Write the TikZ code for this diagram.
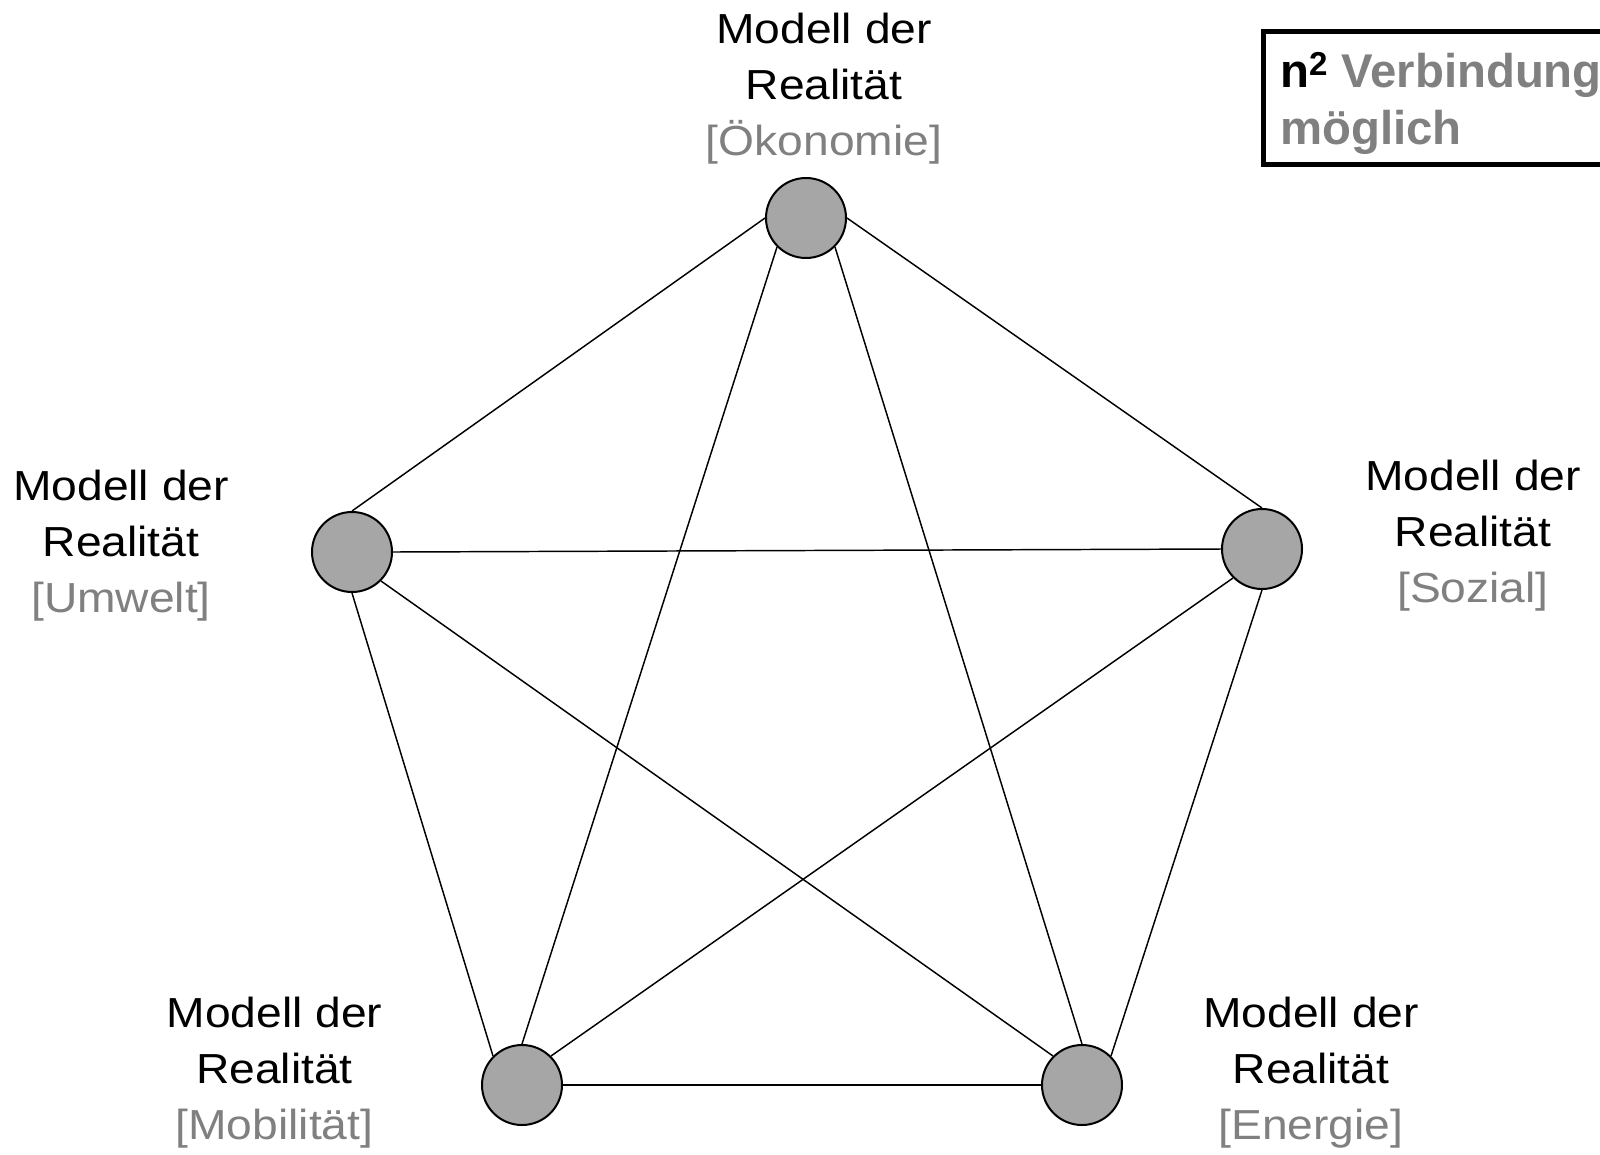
\documentclass[tikz,border=0pt]{standalone}
\usepackage{fontspec}
\setmainfont{Liberation Sans}
\newfontfamily\labelfont{Liberation Sans}[FakeStretch=1.1]
\definecolor{txtgray}{HTML}{808080}
\definecolor{nodefill}{HTML}{A6A6A6}

\begin{document}
\begin{tikzpicture}[x=0.75pt,y=-0.75pt,
  model/.style={circle, draw=black, line width=1.5pt, fill=nodefill,
    minimum size=60pt, inner sep=0pt},
  link/.style={line width=1.1pt},
  caption/.style={align=center, inner sep=0pt,
    font=\labelfont\fontsize{31.5}{42}\selectfont},
  infobox/.style={draw=black, line width=3.75pt},
  notetext/.style={align=left, inner sep=0pt, anchor=west,
    font=\bfseries\fontsize{35.5}{42.75}\selectfont}
]
\path[use as bounding box, clip] (0,0) rectangle (1600,1154);
\fill[white] (0,0) rectangle (1600,1154);

% the five models
\node[model] (oek) at (806,218) {};
\node[model] (umw) at (352,552) {};
\node[model] (soz) at (1262,549) {};
\node[model] (mob) at (522,1085) {};
\node[model] (ene) at (1082,1085) {};

% every model linked with every other one, between fixed connection points
\draw[link] (oek.west) -- (umw.north);
\draw[link] (oek.east) -- (soz.north);
\draw[link] (oek.south west) -- (mob.north);
\draw[link] (oek.south east) -- (ene.north);
\draw[link] (umw.east) -- (soz.west);
\draw[link] (umw.south) -- (mob.north west);
\draw[link] (umw.south east) -- (ene.north west);
\draw[link] (soz.south west) -- (mob.north east);
\draw[link] (soz.south) -- (ene.north east);
\draw[link] (mob.east) -- (ene.west);

% captions
\node[caption] (oekl) at (824,89) {Modell der\\Realität\\\textcolor{txtgray}{[Ökonomie]}};
\node[caption] (umwl) at (121,546) {Modell der\\Realität\\\textcolor{txtgray}{[Umwelt]}};
\node[caption] (sozl) at (1473,536) {Modell der\\Realität\\\textcolor{txtgray}{[Sozial]}};
\node[caption] (mobl) at (274.5,1073) {Modell der\\Realität\\\textcolor{txtgray}{[Mobilität]}};
\node[caption] (enel) at (1311,1073) {Modell der\\Realität\\\textcolor{txtgray}{[Energie]}};

% note box in the upper right corner
\draw[infobox] (1263.5,31.5) rectangle (1700,164.5);
\node[notetext] (note) at (1280,103) {n\textsuperscript{2} \textcolor{txtgray}{Verbindungen}\\\textcolor{txtgray}{möglich}};
\end{tikzpicture}
\end{document}
